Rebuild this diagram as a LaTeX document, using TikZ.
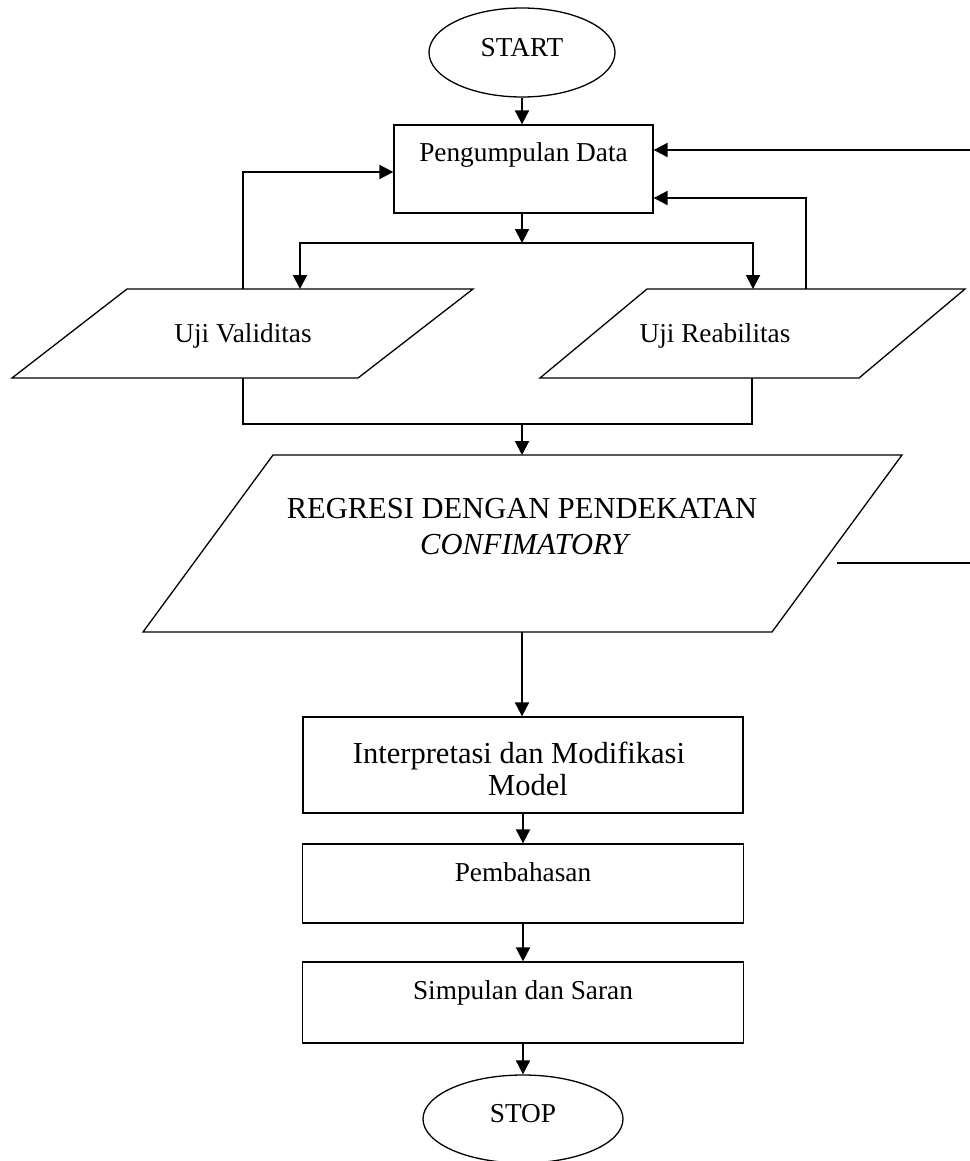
\documentclass[tikz,border=0pt]{standalone}
\usepackage{fontspec}
\setmainfont{Liberation Serif}
\usetikzlibrary{shapes.geometric,arrows.meta}
\newcommand\fntA{\fontsize{27.3}{31}\selectfont}
\newcommand\fntB{\fontsize{30.5}{33}\selectfont}
\begin{document}
\begin{tikzpicture}[x=1pt,y=-1pt,
  shp/.style={draw,line width=1.3pt,line join=miter},
  procbox/.style={shp,inner sep=0pt,rectangle},
  termbox/.style={shp,inner sep=0pt,ellipse},
  lbl/.style={inner sep=0pt,anchor=base,font=\fntA},
  conn/.style={line width=2pt},
  arr/.style={conn,-{Triangle[length=14pt,width=14pt]}}]
\useasboundingbox (0,0) rectangle (969,1161);
\fill[white] (0,0) rectangle (969,1161);

% terminals and process boxes
\node[termbox,minimum width=186pt,minimum height=89pt] (start) at (522,52.5) {};
\node[lbl] (startT) at (522,57) {START};

\node[procbox,minimum width=259pt,minimum height=88pt] (pd) at (523.5,169) {};
\node[lbl] (pdT) at (523.5,162) {Pengumpulan Data};

% parallelograms
\draw[shp] (127,289) -- (473,289) -- (358,378) -- (12,378) -- cycle;
\node[lbl] (uvT) at (243,342) {Uji Validitas};
\coordinate (uvIn) at (300,289);
\coordinate (uvOut) at (243,289);
\coordinate (uvS) at (243,378);

\draw[shp] (647,289) -- (965,289) -- (859,378) -- (540,378) -- cycle;
\node[lbl] (urT) at (715,342) {Uji Reabilitas};
\coordinate (urIn) at (753,289);
\coordinate (urOut) at (806,289);
\coordinate (urS) at (752,378);

\draw[shp] (273,455) -- (902,455) -- (772,632) -- (143,632) -- cycle;
\node[lbl,font=\fntB] (rgT1) at (522,518) {REGRESI DENGAN PENDEKATAN};
\node[lbl,font=\fntB] (rgT2) at (525.5,554) {\textit{CONFIMATORY}};
\coordinate (rgN) at (522,455);
\coordinate (rgS) at (522,632);
\coordinate (rgR) at (837,563);

\node[procbox,minimum width=440pt,minimum height=96pt] (im) at (523,765) {};
\node[lbl,font=\fntB] (imT1) at (519,763) {Interpretasi dan Modifikasi};
\node[lbl,font=\fntB] (imT2) at (528,795) {Model};

\node[procbox,minimum width=441pt,minimum height=79pt] (pb) at (523,883.5) {};
\node[lbl] (pbT) at (523,881) {Pembahasan};

\node[procbox,minimum width=441pt,minimum height=81pt] (ss) at (523,1002.5) {};
\node[lbl] (ssT) at (523,999) {Simpulan dan Saran};

\node[termbox,minimum width=200pt,minimum height=88pt] (stop) at (523,1119) {};
\node[lbl] (stopT) at (523,1122) {STOP};

% helper coordinates
\coordinate (spl) at (522,243);
\coordinate (mrg) at (522,424);
\coordinate (fbA) at (975,150);
\coordinate (fbB) at (975,563);

% connectors
\draw[arr] (start.south) -- (start.south |- pd.north);
\draw[arr] (pd.south -| spl) -- (spl);
\draw[arr] (spl) -| (uvIn);
\draw[arr] (spl) -| (urIn);
\draw[arr] (uvOut) |- ([yshift=-3pt]pd.west);
\draw[arr] (urOut) |- ([yshift=-29pt]pd.east);
\draw[arr] (fbA) -- (fbA -| pd.east);
\draw[conn] (uvS) -- (uvS |- mrg) -- (urS |- mrg) -- (urS);
\draw[arr] (mrg) -- (rgN);
\draw[conn] (rgR) -- (fbB);
\draw[arr] (rgS) -- (rgS |- im.north);
\draw[arr] (im.south) -- (pb.north);
\draw[arr] (pb.south) -- (ss.north);
\draw[arr] (ss.south) -- (stop.north);
\end{tikzpicture}
\end{document}
